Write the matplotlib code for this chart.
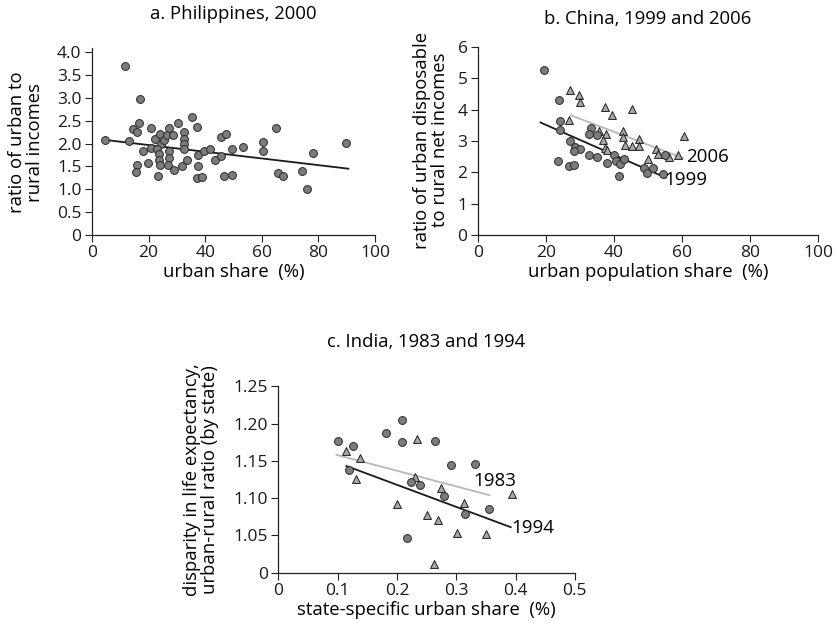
import matplotlib
matplotlib.use("Agg")
import matplotlib.pyplot as plt

plt.rcParams['font.family'] = ['Open Sans', 'DejaVu Sans']
plt.rcParams['font.size'] = 12

# ---- a. Philippines, 2000 ----
ph_urban_share = [11.7, 17.0, 16.5, 14.4, 15.8, 4.5, 13.2, 17.9, 15.8, 15.6,
                  19.7, 20.8, 20.9, 22.4, 24.2, 24.4, 25.5, 26.4, 27.1, 28.6,
                  23.1, 23.5, 23.5, 24.2, 23.2, 27.3, 27.3, 26.9, 28.8, 30.4,
                  32.6, 32.4, 32.4, 32.4, 31.7, 33.6, 35.5, 37.2, 37.5, 37.4,
                  37.0, 38.8, 39.5, 41.8, 43.5, 45.5, 45.5, 47.2, 46.7, 49.3,
                  49.6, 53.2, 60.5, 60.4, 65.0, 65.8, 67.5, 74.2, 75.9, 78.0,
                  89.9]
ph_ratio = [3.69, 2.98, 2.45, 2.32, 2.25, 2.08, 2.05, 1.83, 1.52, 1.37,
            1.57, 2.33, 1.91, 2.09, 2.21, 1.99, 2.08, 2.18, 2.33, 2.18,
            1.88, 1.78, 1.64, 1.52, 1.28, 1.84, 1.68, 1.52, 1.43, 2.45,
            2.26, 2.11, 2.00, 1.87, 1.50, 1.64, 2.59, 2.36, 1.74, 1.51,
            1.25, 1.26, 1.84, 1.89, 1.64, 1.72, 2.15, 2.21, 1.30, 1.31,
            1.88, 1.93, 2.04, 1.84, 2.33, 1.36, 1.28, 1.40, 1.01, 1.79,
            2.02]
ph_fit_x = [4.5, 90.6]
ph_fit_y = [2.08, 1.45]

# ---- b. China, 1999 and 2006 ----
cn99_share = [19.3, 23.7, 24.0, 24.1, 27.2, 28.6, 30.0, 28.2, 23.6, 26.7,
              28.2, 33.2, 32.5, 34.9, 32.7, 35.0, 38.0, 40.1, 40.5, 41.8,
              42.9, 41.6, 48.9, 49.7, 51.4, 54.4, 55.0]
cn99_ratio = [5.26, 4.30, 3.64, 3.34, 3.01, 2.82, 2.76, 2.67, 2.35, 2.21,
              2.23, 3.40, 3.22, 3.20, 2.56, 2.48, 2.29, 2.56, 2.37, 2.26,
              2.41, 1.88, 2.13, 1.99, 2.14, 1.94, 2.55]
cn06_share = [27.1, 29.8, 30.1, 26.9, 35.6, 37.4, 39.5, 37.5, 36.9, 37.3,
              38.0, 42.5, 42.6, 43.1, 45.4, 45.3, 47.4, 47.4, 49.9, 52.4,
              52.9, 56.1, 58.9, 60.7]
cn06_ratio = [4.62, 4.46, 4.23, 3.66, 3.32, 4.09, 3.83, 3.22, 3.04, 2.79,
              2.70, 3.32, 3.12, 2.86, 4.01, 2.84, 3.07, 2.84, 2.44, 2.74,
              2.60, 2.49, 2.55, 3.15]
cn99_fit_x = [18.4, 55.2]
cn99_fit_y = [3.59, 1.83]
cn06_fit_x = [27.3, 60.4]
cn06_fit_y = [3.82, 2.45]

# ---- c. India, 1983 and 1994 ----
in83_share = [0.100, 0.126, 0.119, 0.208, 0.181, 0.209, 0.265, 0.291, 0.332,
              0.223, 0.239, 0.280, 0.315, 0.356, 0.217]
in83_disp = [1.177, 1.170, 1.137, 1.205, 1.187, 1.175, 1.177, 1.144, 1.146,
             1.121, 1.117, 1.103, 1.079, 1.085, 1.047]
in94_share = [0.114, 0.137, 0.131, 0.234, 0.231, 0.275, 0.313, 0.201, 0.251,
              0.269, 0.301, 0.350, 0.262, 0.394]
in94_disp = [1.163, 1.154, 1.125, 1.179, 1.128, 1.114, 1.093, 1.092, 1.077,
             1.071, 1.053, 1.052, 1.012, 1.106]
in83_fit_x = [0.098, 0.356]
in83_fit_y = [1.158, 1.104]
in94_fit_x = [0.115, 0.392]
in94_fit_y = [1.143, 1.061]

W, H = 836, 628
fig = plt.figure(figsize=(W / 100, H / 100), dpi=100)

CIRC = dict(marker='o', s=32, facecolor='#7c7c7c', edgecolor='#2a2a2a',
            linewidths=0.7, zorder=3)
TRI = dict(marker='^', s=32, facecolor='#a8a8a8', edgecolor='#1e1e1e',
           linewidths=0.7, zorder=3)
DARK = '#1a1a1a'
LIGHT = '#b8b8b8'
TICK_FS = 12.5
LABEL_FS = 13.3
YEAR_FS = 13.5


def style(ax):
    for side in ('top', 'right'):
        ax.spines[side].set_visible(False)
    for side in ('left', 'bottom'):
        ax.spines[side].set_linewidth(0.9)
        ax.spines[side].set_color('#222222')
    ax.tick_params(direction='out', length=5, width=0.8, colors='#222222',
                   labelsize=TICK_FS, pad=2.5)
    for lbl in ax.get_xticklabels() + ax.get_yticklabels():
        lbl.set_color('#1a1a1a')


def axes_px(left, right, bottom, top):
    return fig.add_axes([left / W, 1 - bottom / H, (right - left) / W,
                         (bottom - top) / H])


def side_label(text, x_px, y_px):
    fig.text(x_px / W, 1 - y_px / H, text, rotation=90, ha='center',
             va='center', multialignment='center', fontsize=LABEL_FS,
             linespacing=1.05, rotation_mode='anchor')


# panel a
ax1 = axes_px(92, 375, 235, 47.5)
ax1.scatter(ph_urban_share, ph_ratio, **CIRC)
ax1.plot(ph_fit_x, ph_fit_y, color=DARK, lw=1.3, zorder=2)
ax1.set_xlim(0, 100)
ax1.set_ylim(0, 4.1)
ax1.set_xticks([0, 20, 40, 60, 80, 100])
ax1.set_yticks([0, 0.5, 1.0, 1.5, 2.0, 2.5, 3.0, 3.5, 4.0])
ax1.set_yticklabels(['0', '0.5', '1.0', '1.5', '2.0', '2.5', '3.0', '3.5', '4.0'])
ax1.set_xlabel('urban share  (%)', fontsize=LABEL_FS, labelpad=1)
style(ax1)
side_label('ratio of urban to\nrural incomes', 26, 142)

# panel b
ax2 = axes_px(478, 818, 235, 47)
ax2.scatter(cn06_share, cn06_ratio, **TRI)
ax2.scatter(cn99_share, cn99_ratio, **CIRC)
ax2.plot(cn06_fit_x, cn06_fit_y, color=LIGHT, lw=1.3, zorder=2)
ax2.plot(cn99_fit_x, cn99_fit_y, color=DARK, lw=1.3, zorder=2)
ax2.text(67.4, 2.49, '2006', ha='center', va='center', fontsize=YEAR_FS)
ax2.text(61.2, 1.76, '1999', ha='center', va='center', fontsize=YEAR_FS)
ax2.set_xlim(0, 100)
ax2.set_ylim(0, 6)
ax2.set_xticks([0, 20, 40, 60, 80, 100])
ax2.set_yticks(range(0, 7))
ax2.set_xlabel('urban population share  (%)', fontsize=LABEL_FS, labelpad=1)
style(ax2)
side_label('ratio of urban disposable\nto rural net incomes', 431, 140)

# panel c
ax3 = axes_px(278.3, 574.8, 572.7, 386.2)
ax3.scatter(in94_share, in94_disp, **TRI)
ax3.scatter(in83_share, in83_disp, **CIRC)
ax3.plot(in83_fit_x, in83_fit_y, color=LIGHT, lw=1.3, zorder=2)
ax3.plot(in94_fit_x, in94_fit_y, color=DARK, lw=1.3, zorder=2)
ax3.text(0.365, 1.123, '1983', ha='center', va='center', fontsize=YEAR_FS)
ax3.text(0.429, 1.060, '1994', ha='center', va='center', fontsize=YEAR_FS)
ax3.set_xlim(0, 0.5)
ax3.set_ylim(1.0, 1.25)
ax3.set_xticks([0, 0.1, 0.2, 0.3, 0.4, 0.5])
ax3.set_xticklabels(['0', '0.1', '0.2', '0.3', '0.4', '0.5'])
ax3.set_yticks([1.0, 1.05, 1.10, 1.15, 1.20, 1.25])
ax3.set_yticklabels(['0', '1.05', '1.10', '1.15', '1.20', '1.25'])
ax3.set_xlabel('state-specific urban share  (%)', fontsize=LABEL_FS,
               labelpad=1)
style(ax3)
side_label('disparity in life expectancy,\nurban-rural ratio (by state)',
           201, 480)

# panel titles
fig.text(233.5 / W, 1 - 14 / H, 'a. Philippines, 2000', ha='center',
         va='center', fontsize=LABEL_FS)
fig.text(648 / W, 1 - 19 / H, 'b. China, 1999 and 2006', ha='center',
         va='center', fontsize=LABEL_FS)
fig.text(426.5 / W, 1 - 342 / H, 'c. India, 1983 and 1994', ha='center',
         va='center', fontsize=LABEL_FS)

fig.savefig('out.png', dpi=100)
